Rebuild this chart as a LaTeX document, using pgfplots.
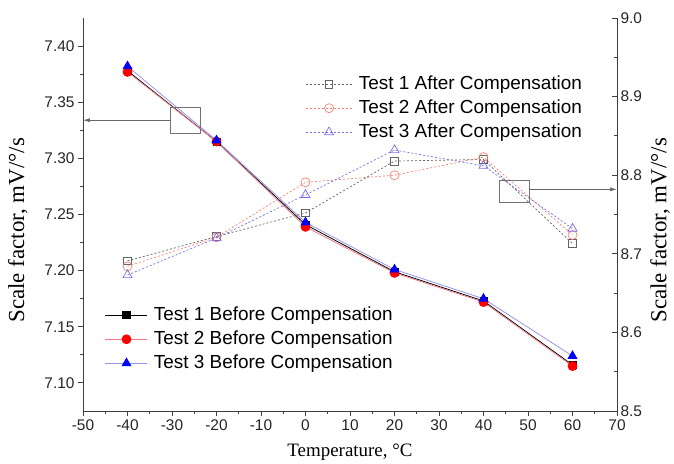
\documentclass[border=0pt]{standalone}
\usepackage{fontspec}
\setmainfont{Liberation Serif}
\newfontfamily\arial{Liberation Sans}
\usepackage{pgfplots}
\pgfplotsset{compat=1.18}
\usetikzlibrary{arrows.meta}

\definecolor{t2line}{RGB}{240,120,130}
\definecolor{t3line}{RGB}{150,150,235}
\definecolor{t1after}{RGB}{100,100,100}
\definecolor{t2after}{RGB}{245,130,115}
\definecolor{t3after}{RGB}{120,110,230}

\pgfplotsset{
  common/.style={
    scale only axis, width=534bp, height=393bp,
    at={(0,0)}, anchor=south west,
    xmin=-50, xmax=70, clip=false,
    /pgf/number format/assume math mode=true,
    tick label style={font=\arial\fontsize{15.5}{18}\selectfont, black!85},
    label style={font=\fontsize{19}{22}\selectfont},
    axis line style={line width=0.9pt, black!75},
    tick style={line width=0.9pt, black!75},
    major tick length=5bp, minor tick length=3bp,
    legend cell align=left,
    legend style={draw=none, fill=none, inner sep=0pt, row sep=6bp,
      font=\arial\fontsize{19}{22}\selectfont,
      nodes={inner sep=0pt, text height=14bp, text depth=4bp},
      /tikz/every odd column/.append style={column sep=6bp}},
  },
  lowleg/.style={legend image code/.code={%
    \draw (0bp,0bp) -- (42bp,0bp);
    \draw[only marks] plot coordinates {(21bp,0bp)};}},
  upleg/.style={legend image code/.code={%
    \draw (0bp,0bp) -- (47bp,0bp);
    \draw[only marks] plot coordinates {(23.5bp,0bp)};}},
}

\begin{document}
\begin{tikzpicture}
\useasboundingbox (-83bp,-53bp) rectangle (591bp,411bp);

% left axis: before compensation
\begin{axis}[common,
    axis x line*=bottom, axis y line*=left,
    ymin=7.075, ymax=7.425,
    xtick={-50,-40,...,70}, minor x tick num=1,
    ytick={7.10,7.15,7.20,7.25,7.30,7.35,7.40}, minor y tick num=1,
    tick align=outside,
    yticklabel style={/pgf/number format/.cd, fixed, fixed zerofill, precision=2},
    xlabel={Temperature, \textdegree C},
    xlabel style={at={(axis description cs:0.5,-0.104)}, anchor=center},
    ylabel={Scale factor, mV/\textdegree/s},
    ylabel style={at={(axis description cs:-0.122,0.46)}, anchor=center, font=\fontsize{23}{25}\selectfont},
    lowleg,
    legend style={at={(axis description cs:0.041,0.267)}, anchor=north west},
  ]
\addplot[black, line width=0.8pt, mark=square*, mark size=3.6bp] coordinates {
  (-40,7.378) (-20,7.315) (0,7.241) (20,7.199) (40,7.173) (60,7.116)};
\addplot[t2line, line width=0.8pt, mark=*, mark size=4.5bp, mark options={red, fill=red}] coordinates {
  (-40,7.377) (-20,7.315) (0,7.239) (20,7.198) (40,7.172) (60,7.115)};
\addplot[t3line, line width=0.8pt, mark=triangle*, mark size=5bp, mark options={blue, fill=blue}] coordinates {
  (-40,7.382) (-20,7.316) (0,7.243) (20,7.201) (40,7.175) (60,7.124)};
\legend{Test 1 Before Compensation, Test 2 Before Compensation, Test 3 Before Compensation}

\draw[black!55, line width=0.7pt] (axis cs:-30.4,7.345) rectangle (axis cs:-23.7,7.322);
\draw[black!60, line width=0.7pt, -{Latex[length=7bp,width=4bp]}] (axis cs:-30.4,7.334) -- (axis cs:-50,7.334);
\end{axis}

% right axis: after compensation
\begin{axis}[common,
    axis x line=none, axis y line*=right,
    ymin=8.5, ymax=9.0,
    ytick={8.5,8.6,8.7,8.8,8.9,9.0}, minor y tick num=1,
    tick align=inside,
    yticklabel style={/pgf/number format/.cd, fixed, fixed zerofill, precision=1},
    ylabel={Scale factor, mV/\textdegree/s},
    ylabel style={at={(axis description cs:1.0805,0.46)}, anchor=center, rotate=0, font=\fontsize{23}{25}\selectfont},
    upleg,
    legend style={at={(axis description cs:0.4157,0.855)}, anchor=north west},
  ]
\addplot[t1after, line width=0.7pt, dash pattern=on 2bp off 2bp, mark=square, mark size=3.8bp, mark options={solid}] coordinates {
  (-40,8.691) (-20,8.722) (0,8.752) (20,8.818) (40,8.820) (60,8.713)};
\addplot[t2after, line width=0.7pt, dash pattern=on 2bp off 2bp, mark=o, mark size=4.5bp, mark options={solid}] coordinates {
  (-40,8.684) (-20,8.721) (0,8.791) (20,8.800) (40,8.823) (60,8.724)};
\addplot[t3after, line width=0.7pt, dash pattern=on 2bp off 2bp, mark=triangle, mark size=5.2bp, mark options={solid}] coordinates {
  (-40,8.673) (-20,8.720) (0,8.775) (20,8.832) (40,8.812) (60,8.732)};
\legend{Test 1 After Compensation, Test 2 After Compensation, Test 3 After Compensation}

\draw[black!55, line width=0.7pt] (axis cs:43.5,8.794) rectangle (axis cs:50.2,8.765);
\draw[black!60, line width=0.7pt, -{Latex[length=7bp,width=4bp]}] (axis cs:50.2,8.782) -- (axis cs:70,8.782);
\end{axis}
\end{tikzpicture}
\end{document}
